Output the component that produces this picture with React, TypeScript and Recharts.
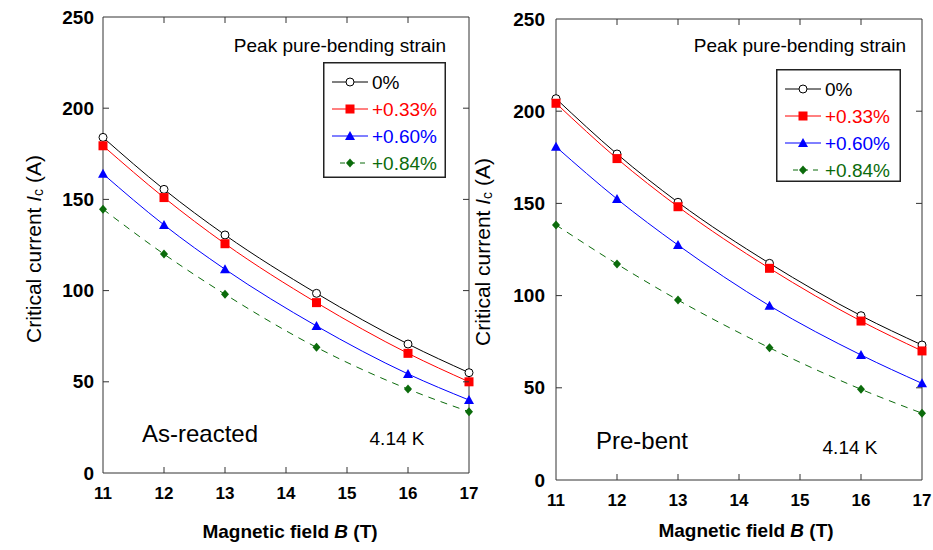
import { LineChart, Line, XAxis, YAxis, Legend } from "recharts";

// magnetic field values where Ic was measured
const fieldB = [11, 12, 13, 14.5, 16, 17];
const xTicks = [11, 12, 13, 14, 15, 16, 17];
const yTicks = [0, 50, 100, 150, 200, 250];
const strainLabels = ["0%", "+0.33%", "+0.60%", "+0.84%"];

// as-reacted sample, Ic (A)
const reactedS0 = [184, 155.5, 130.5, 98.5, 70.7, 55];
const reactedS33 = [179.4, 151, 125.7, 93.4, 65.6, 50];
const reactedS60 = [164, 136, 111.7, 80.6, 54.3, 40];
const reactedS84 = [144.6, 120, 98, 68.9, 46, 33.6];

// pre-bent sample, Ic (A)
const bentS0 = [206.8, 176.8, 150.6, 117.5, 89.1, 73.2];
const bentS33 = [204.3, 174.3, 148.2, 114.8, 86.2, 70];
const bentS60 = [180.7, 152.4, 127.4, 94.5, 67.8, 52.4];
const bentS84 = [138.3, 117.1, 97.6, 71.7, 49.2, 36.2];

const FONT = '"Liberation Sans", Arial, sans-serif';
const AXIS = "#333";
const TICK = 6;
const H = 550;
const XAXIS_H = 30;

// the first series is bound to the top/right frame axes so those get a domain too
const SERIES = [
  { key: "s0", color: "#000000", marker: "circle", dash: undefined, xId: "top", yId: "right" },
  { key: "s33", color: "#ff0000", marker: "square", dash: undefined, xId: 0, yId: 0 },
  { key: "s60", color: "#0000ff", marker: "triangle", dash: undefined, xId: 0, yId: 0 },
  { key: "s84", color: "#0b6b0b", marker: "diamond", dash: "7 6", xId: 0, yId: 0 },
];

function buildRows(s0: number[], s33: number[], s60: number[], s84: number[]) {
  return fieldB.map((b, i) => ({ b, s0: s0[i], s33: s33[i], s60: s60[i], s84: s84[i] }));
}

function Marker({ kind, cx, cy, color }: any) {
  if (cx == null || cy == null) return null;
  if (kind === "circle")
    return <circle cx={cx} cy={cy} r={4} fill="#fff" stroke={color} strokeWidth={1} />;
  if (kind === "square")
    return <rect x={cx - 4.5} y={cy - 4.5} width={9} height={9} fill={color} />;
  if (kind === "triangle")
    return (
      <polygon
        points={`${cx},${cy - 5} ${cx + 5},${cy + 4} ${cx - 5},${cy + 4}`}
        fill={color}
      />
    );
  return (
    <polygon
      points={`${cx},${cy - 4.5} ${cx + 4},${cy} ${cx},${cy + 4.5} ${cx - 4},${cy}`}
      fill={color}
    />
  );
}

function LegendBox({ payload, w, h }: any) {
  const items = [...(payload || [])].sort(
    (a: any, b: any) =>
      SERIES.findIndex((s) => s.key === a.dataKey) - SERIES.findIndex((s) => s.key === b.dataKey)
  );
  return (
    <svg width={w} height={h} style={{ display: "block", fontFamily: FONT }}>
      <rect x={0.75} y={0.75} width={w - 1.5} height={h - 1.5} fill="#fff" stroke="#222" strokeWidth={1.5} />
      {items.map((entry: any, i: number) => {
        const cfg = SERIES.find((s) => s.key === entry.dataKey) || SERIES[i];
        const y = 20 + i * 27;
        const dashed = !!cfg.dash;
        return (
          <g key={cfg.key}>
            <line
              x1={dashed ? 17 : 9}
              x2={45}
              y1={y}
              y2={y}
              stroke={cfg.color}
              strokeWidth={1}
              strokeDasharray={dashed ? "5 5" : undefined}
            />
            <Marker kind={cfg.marker} cx={27} cy={y} color={cfg.color} />
            <text x={49} y={y} dominantBaseline="central" fontSize={19} fill={cfg.color}>
              {entry.value}
            </text>
          </g>
        );
      })}
    </svg>
  );
}

// labels only on the bottom/left axes
const bottomLabel = (p: any) => (
  <text
    key={`b-${p.payload.value}`}
    x={p.x}
    y={p.y}
    textAnchor="middle"
    dominantBaseline="central"
    fontSize={17}
    fontWeight="bold"
    fontFamily={FONT}
    fill="#000"
  >
    {p.payload.value}
  </text>
);

const leftLabel = (p: any) => (
  <text
    key={`l-${p.payload.value}`}
    x={p.x}
    y={p.y}
    textAnchor="end"
    dominantBaseline="central"
    fontSize={19}
    fontWeight="bold"
    fontFamily={FONT}
    fill="#000"
  >
    {p.payload.value}
  </text>
);

// inward tick marks on the frame: the top axis draws top + bottom marks,
// the right axis draws right + left marks
const makeTopTick = (gap: number, plotH: number) => (p: any) => {
  const v = p.payload.value;
  if (v === xTicks[0] || v === xTicks[xTicks.length - 1]) return <g key={`t-${v}`} />;
  const top = p.y + gap;
  const bottom = top + plotH;
  return (
    <g key={`t-${v}`}>
      <path d={`M${p.x},${top}V${top + TICK}M${p.x},${bottom}V${bottom - TICK}`} stroke={AXIS} strokeWidth={1} />
    </g>
  );
};

const makeRightTick = (gap: number, plotW: number) => (p: any) => {
  const v = p.payload.value;
  if (v === yTicks[0] || v === yTicks[yTicks.length - 1]) return <g key={`r-${v}`} />;
  const right = p.x - gap;
  const left = right - plotW;
  return (
    <g key={`r-${v}`}>
      <path d={`M${right},${p.y}H${right - TICK}M${left},${p.y}H${left + TICK}`} stroke={AXIS} strokeWidth={1} />
    </g>
  );
};

function Panel({ rows, left, width, margin, legendPos, yTickMargin }: any) {
  const plotH = H - margin.top - 1 - margin.bottom - XAXIS_H;
  const plotW = width - margin.left - 50 - margin.right - 1;
  return (
    <div style={{ position: "absolute", left, top: 0 }}>
      <LineChart width={width} height={H} data={rows} margin={margin}>
        <XAxis
          dataKey="b"
          type="number"
          domain={[11, 17]}
          ticks={xTicks}
          interval={0}
          height={XAXIS_H}
          tickSize={0}
          tickMargin={20}
          tickLine={false}
          stroke={AXIS}
          tick={bottomLabel}
        />
        <XAxis
          xAxisId="top"
          orientation="top"
          dataKey="b"
          type="number"
          domain={[11, 17]}
          ticks={xTicks}
          interval={0}
          height={1}
          tickSize={0}
          tickMargin={2}
          tickLine={false}
          stroke={AXIS}
          tick={makeTopTick(2, plotH)}
        />
        <YAxis
          type="number"
          domain={[0, 250]}
          ticks={yTicks}
          interval={0}
          width={50}
          tickSize={0}
          tickMargin={yTickMargin}
          tickLine={false}
          stroke={AXIS}
          tick={leftLabel}
        />
        <YAxis
          yAxisId="right"
          orientation="right"
          type="number"
          domain={[0, 250]}
          ticks={yTicks}
          interval={0}
          width={1}
          tickSize={0}
          tickMargin={2}
          tickLine={false}
          stroke={AXIS}
          tick={makeRightTick(2, plotW)}
        />
        {SERIES.map((s, i) => (
          <Line
            key={s.key}
            xAxisId={s.xId}
            yAxisId={s.yId}
            dataKey={s.key}
            name={strainLabels[i]}
            type="monotone"
            stroke={s.color}
            strokeWidth={1}
            strokeDasharray={s.dash}
            isAnimationActive={false}
            dot={(p: any) => (
              <Marker key={`${s.key}-${p.index}`} kind={s.marker} cx={p.cx} cy={p.cy} color={s.color} />
            )}
            activeDot={false}
          />
        ))}
        <Legend
          layout="horizontal"
          verticalAlign="middle"
          align="center"
          wrapperStyle={{
            position: "absolute",
            left: legendPos.x,
            top: legendPos.y,
            width: legendPos.w,
            height: legendPos.h,
          }}
          content={(props: any) => <LegendBox payload={props.payload} w={legendPos.w} h={legendPos.h} />}
        />
      </LineChart>
    </div>
  );
}

function YTitle({ x, y }: any) {
  return (
    <text
      x={x}
      y={y}
      transform={`rotate(-90 ${x} ${y})`}
      textAnchor="middle"
      dominantBaseline="central"
      fontSize={21}
    >
      Critical current <tspan fontStyle="italic">I</tspan>
      <tspan fontSize={14} dy={5}>c</tspan>
      <tspan dy={-5}> (A)</tspan>
    </text>
  );
}

function XTitle({ x, y }: any) {
  return (
    <text x={x} y={y} textAnchor="middle" dominantBaseline="central" fontSize={19} fontWeight="bold">
      Magnetic field <tspan fontStyle="italic">B</tspan> (T)
    </text>
  );
}

export default function App() {
  const reacted = buildRows(reactedS0, reactedS33, reactedS60, reactedS84);
  const bent = buildRows(bentS0, bentS33, bentS60, bentS84);
  return (
    <div
      style={{
        position: "absolute",
        left: 0,
        top: 0,
        width: 933,
        height: H,
        background: "#fff",
        overflow: "hidden",
        fontFamily: FONT,
      }}
    >
      <Panel
        rows={reacted}
        left={0}
        width={480}
        margin={{ top: 16, right: 10, bottom: 47, left: 53 }}
        legendPos={{ x: 323, y: 62, w: 123, h: 116 }}
        yTickMargin={9}
      />
      <Panel
        rows={bent}
        left={460}
        width={473}
        margin={{ top: 18, right: 10, bottom: 40, left: 46 }}
        legendPos={{ x: 316, y: 69, w: 125, h: 113 }}
        yTickMargin={11}
      />
      <svg
        width={933}
        height={H}
        style={{ position: "absolute", left: 0, top: 0, pointerEvents: "none", fontFamily: FONT }}
      >
        <text x={340} y={45} textAnchor="middle" dominantBaseline="central" fontSize={19}>
          Peak pure-bending strain
        </text>
        <text x={800} y={45} textAnchor="middle" dominantBaseline="central" fontSize={19}>
          Peak pure-bending strain
        </text>
        <text x={200} y={433} textAnchor="middle" dominantBaseline="central" fontSize={24}>
          As-reacted
        </text>
        <text x={397} y={438} textAnchor="middle" dominantBaseline="central" fontSize={19}>
          4.14 K
        </text>
        <text x={642} y={440} textAnchor="middle" dominantBaseline="central" fontSize={24}>
          Pre-bent
        </text>
        <text x={850} y={447} textAnchor="middle" dominantBaseline="central" fontSize={19}>
          4.14 K
        </text>
        <YTitle x={33} y={249} />
        <YTitle x={482} y={252} />
        <XTitle x={290} y={531} />
        <XTitle x={746} y={530} />
      </svg>
    </div>
  );
}
